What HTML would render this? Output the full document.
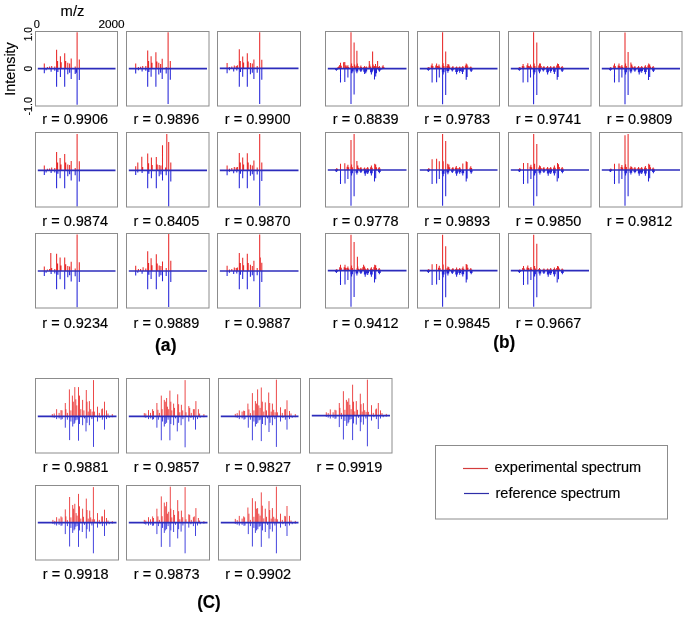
<!DOCTYPE html>
<html><head><meta charset="utf-8"><style>
html,body{margin:0;padding:0;background:#fff;}
svg{display:block;will-change:transform;font-family:"Liberation Sans",sans-serif;}
text{stroke:#000;stroke-width:0.15px;}
</style></head><body>
<svg width="685" height="622" viewBox="0 0 685 622">
<rect width="685" height="622" fill="#fff"/>

<path d="M44.3 68.6V63.6M47.4 68.6V66.9M49.6 68.6V66.5M51.7 68.6V65.9M54.8 68.6V66.5M56.6 68.6V49.8M57.6 68.6V60.9M60.4 68.6V56.2M61.2 68.6V62.2M64.7 68.6V53.3M65.7 68.6V60.9M67.8 68.6V62.8M69.6 68.6V63.4M71.2 68.6V58.5M75.2 68.6V66.5M77.1 68.6V32.2M79.3 68.6V59.4" stroke="#e82828" stroke-width="1.05" fill="none"/>
<path d="M44.3 68.6V73.3M46.1 68.6V70.2M51.1 68.6V71.8M54.8 68.6V70.8M56.6 68.6V86.7M57.9 68.6V72.1M60.4 68.6V77.0M64.7 68.6V86.7M67.8 68.6V74.3M69.6 68.6V72.7M71.2 68.6V78.9M75.2 68.6V73.9M76.4 68.6V72.7M77.1 68.6V104.8M79.3 68.6V80.1" stroke="#2424d8" stroke-width="1.05" fill="none"/>
<line x1="37.8" y1="68.6" x2="115.5" y2="68.6" stroke="#2c2cbc" stroke-width="1.7"/>
<rect x="35.5" y="31.5" width="82.0" height="74.5" fill="none" stroke="#8c8c8c" stroke-width="1"/>
<text x="75.2" y="124.4" font-size="14.8" textLength="65.7" lengthAdjust="spacingAndGlyphs" text-anchor="middle" fill="#000">r = 0.9906</text>
<path d="M135.7 68.6V63.6M138.4 68.6V66.9M140.6 68.6V66.7M142.7 68.6V66.1M145.8 68.6V66.1M147.7 68.6V50.4M148.6 68.6V60.9M151.1 68.6V56.2M152.0 68.6V62.8M155.9 68.6V52.3M156.9 68.6V61.5M158.8 68.6V62.8M160.6 68.6V64.0M162.2 68.6V58.7M166.2 68.6V66.9M168.1 68.6V32.2M170.3 68.6V60.9" stroke="#e82828" stroke-width="1.05" fill="none"/>
<path d="M135.7 68.6V73.5M138.4 68.6V70.2M142.1 68.6V71.4M145.8 68.6V70.8M147.7 68.6V86.7M148.9 68.6V72.1M151.1 68.6V76.8M155.9 68.6V86.7M158.8 68.6V74.5M160.6 68.6V72.7M162.2 68.6V78.9M166.2 68.6V73.5M168.1 68.6V104.0M170.3 68.6V79.7" stroke="#2424d8" stroke-width="1.05" fill="none"/>
<line x1="128.8" y1="68.6" x2="207.0" y2="68.6" stroke="#2c2cbc" stroke-width="1.7"/>
<rect x="126.5" y="31.5" width="82.5" height="74.5" fill="none" stroke="#8c8c8c" stroke-width="1"/>
<text x="166.4" y="124.4" font-size="14.8" textLength="65.7" lengthAdjust="spacingAndGlyphs" text-anchor="middle" fill="#000">r = 0.9896</text>
<path d="M227.1 68.3V63.1M229.4 68.3V66.9M231.8 68.3V66.5M234.3 68.3V65.6M236.2 68.3V65.9M237.4 68.3V65.3M239.3 68.3V49.2M240.3 68.3V60.9M242.7 68.3V56.6M243.6 68.3V62.4M247.3 68.3V53.3M248.2 68.3V61.5M250.4 68.3V63.1M252.3 68.3V63.4M253.9 68.3V59.4M257.2 68.3V65.9M259.7 68.3V32.2M261.8 68.3V59.7" stroke="#e82828" stroke-width="1.05" fill="none"/>
<path d="M227.1 68.3V73.3M229.4 68.3V70.2M233.7 68.3V71.4M236.8 68.3V70.6M239.3 68.3V86.7M240.5 68.3V72.1M242.7 68.3V76.8M247.3 68.3V86.7M250.4 68.3V74.3M252.3 68.3V72.7M253.9 68.3V78.9M257.2 68.3V72.7M259.7 68.3V104.0M261.8 68.3V79.7" stroke="#2424d8" stroke-width="1.05" fill="none"/>
<line x1="219.8" y1="68.3" x2="298.5" y2="68.3" stroke="#2c2cbc" stroke-width="1.7"/>
<rect x="217.5" y="31.5" width="83.0" height="74.5" fill="none" stroke="#8c8c8c" stroke-width="1"/>
<text x="257.7" y="124.4" font-size="14.8" textLength="65.7" lengthAdjust="spacingAndGlyphs" text-anchor="middle" fill="#000">r = 0.9900</text>
<path d="M44.3 170.3V165.6M47.4 170.3V168.7M49.6 170.3V168.4M51.7 170.3V167.5M54.8 170.3V168.1M56.6 170.3V152.0M57.6 170.3V162.6M60.1 170.3V158.0M61.0 170.3V164.4M64.7 170.3V153.9M65.7 170.3V162.6M67.8 170.3V164.4M69.6 170.3V165.0M71.2 170.3V161.1M75.2 170.3V168.1M77.1 170.3V134.1M79.3 170.3V161.3" stroke="#e82828" stroke-width="1.05" fill="none"/>
<path d="M44.3 170.3V174.9M46.1 170.3V172.4M51.1 170.3V173.1M54.8 170.3V172.4M56.6 170.3V188.2M57.9 170.3V173.7M60.1 170.3V178.3M64.7 170.3V188.2M67.8 170.3V176.2M69.6 170.3V174.3M71.2 170.3V180.5M75.2 170.3V175.3M77.1 170.3V206.5M79.3 170.3V181.5" stroke="#2424d8" stroke-width="1.05" fill="none"/>
<line x1="37.8" y1="170.3" x2="115.5" y2="170.3" stroke="#2c2cbc" stroke-width="1.7"/>
<rect x="35.5" y="132.5" width="82.0" height="74.5" fill="none" stroke="#8c8c8c" stroke-width="1"/>
<text x="75.2" y="225.8" font-size="14.8" textLength="65.7" lengthAdjust="spacingAndGlyphs" text-anchor="middle" fill="#000">r = 0.9874</text>
<path d="M135.7 170.3V166.3M137.8 170.3V162.6M141.8 170.3V156.7M142.7 170.3V166.9M147.7 170.3V153.5M148.6 170.3V163.2M151.4 170.3V157.6M152.2 170.3V165.0M156.3 170.3V157.0M157.2 170.3V164.4M159.2 170.3V165.0M160.9 170.3V165.6M162.5 170.3V145.2M165.6 170.3V167.5M166.8 170.3V134.1M168.7 170.3V141.9M170.8 170.3V162.6" stroke="#e82828" stroke-width="1.05" fill="none"/>
<path d="M135.7 170.3V174.9M137.8 170.3V172.4M142.1 170.3V173.1M147.7 170.3V188.2M148.9 170.3V173.7M151.4 170.3V178.3M156.3 170.3V188.2M159.2 170.3V176.2M160.9 170.3V174.6M162.5 170.3V180.5M166.2 170.3V175.3M168.7 170.3V206.5M170.8 170.3V181.5" stroke="#2424d8" stroke-width="1.05" fill="none"/>
<line x1="128.8" y1="170.3" x2="207.0" y2="170.3" stroke="#2c2cbc" stroke-width="1.7"/>
<rect x="126.5" y="132.5" width="82.5" height="74.5" fill="none" stroke="#8c8c8c" stroke-width="1"/>
<text x="166.4" y="225.8" font-size="14.8" textLength="65.7" lengthAdjust="spacingAndGlyphs" text-anchor="middle" fill="#000">r = 0.8405</text>
<path d="M227.1 170.3V165.4M229.4 170.3V168.7M231.8 170.3V168.1M234.3 170.3V167.1M236.2 170.3V167.5M237.4 170.3V166.9M239.3 170.3V153.0M240.3 170.3V162.6M242.7 170.3V157.6M243.6 170.3V164.4M247.3 170.3V153.3M248.2 170.3V162.6M250.4 170.3V164.7M252.3 170.3V165.6M253.9 170.3V160.4M257.2 170.3V167.5M259.7 170.3V134.1M261.8 170.3V162.6" stroke="#e82828" stroke-width="1.05" fill="none"/>
<path d="M227.1 170.3V175.3M229.4 170.3V171.8M233.7 170.3V173.3M236.8 170.3V172.4M239.3 170.3V188.2M240.5 170.3V173.7M242.7 170.3V178.3M247.3 170.3V188.2M250.4 170.3V175.8M252.3 170.3V174.3M253.9 170.3V180.5M257.2 170.3V174.6M259.7 170.3V205.8M261.8 170.3V181.1" stroke="#2424d8" stroke-width="1.05" fill="none"/>
<line x1="219.8" y1="170.3" x2="298.5" y2="170.3" stroke="#2c2cbc" stroke-width="1.7"/>
<rect x="217.5" y="132.5" width="83.0" height="74.5" fill="none" stroke="#8c8c8c" stroke-width="1"/>
<text x="257.7" y="225.8" font-size="14.8" textLength="65.7" lengthAdjust="spacingAndGlyphs" text-anchor="middle" fill="#000">r = 0.9870</text>
<path d="M44.3 271.0V266.4M47.4 271.0V269.4M49.6 271.0V269.1M50.8 271.0V253.0M51.7 271.0V267.9M54.8 271.0V268.9M56.6 271.0V253.7M57.6 271.0V263.6M60.1 271.0V257.4M61.0 271.0V265.4M64.7 271.0V257.4M65.7 271.0V264.2M67.8 271.0V266.0M69.6 271.0V266.6M71.2 271.0V261.7M75.2 271.0V268.5M77.1 271.0V234.5M79.3 271.0V262.3" stroke="#e82828" stroke-width="1.05" fill="none"/>
<path d="M44.3 271.0V275.9M46.1 271.0V272.8M51.1 271.0V274.1M54.8 271.0V273.4M56.6 271.0V289.2M57.9 271.0V274.7M60.1 271.0V279.3M64.7 271.0V289.2M67.8 271.0V277.2M69.6 271.0V275.3M71.2 271.0V281.5M75.2 271.0V276.3M77.1 271.0V307.2M79.3 271.0V282.1" stroke="#2424d8" stroke-width="1.05" fill="none"/>
<line x1="37.8" y1="271.0" x2="115.5" y2="271.0" stroke="#2c2cbc" stroke-width="1.7"/>
<rect x="35.5" y="233.5" width="82.0" height="74.5" fill="none" stroke="#8c8c8c" stroke-width="1"/>
<text x="75.2" y="327.6" font-size="14.8" textLength="65.7" lengthAdjust="spacingAndGlyphs" text-anchor="middle" fill="#000">r = 0.9234</text>
<path d="M135.7 271.0V265.7M138.4 271.0V269.1M140.6 271.0V268.9M143.1 271.0V267.3M145.8 271.0V268.5M147.7 271.0V251.2M148.6 271.0V262.9M151.1 271.0V258.2M152.0 271.0V265.2M156.3 271.0V254.3M157.2 271.0V263.6M159.2 271.0V265.4M160.9 271.0V266.0M162.5 271.0V261.4M166.2 271.0V267.9M168.7 271.0V233.9M170.8 271.0V260.7" stroke="#e82828" stroke-width="1.05" fill="none"/>
<path d="M135.7 271.0V275.6M137.8 271.0V272.8M142.1 271.0V273.8M147.7 271.0V289.2M148.9 271.0V274.7M151.1 271.0V279.0M156.3 271.0V289.2M159.2 271.0V276.8M160.9 271.0V275.3M162.5 271.0V281.2M166.2 271.0V275.9M168.7 271.0V306.9M170.8 271.0V282.1" stroke="#2424d8" stroke-width="1.05" fill="none"/>
<line x1="128.8" y1="271.0" x2="207.0" y2="271.0" stroke="#2c2cbc" stroke-width="1.7"/>
<rect x="126.5" y="233.5" width="82.5" height="74.5" fill="none" stroke="#8c8c8c" stroke-width="1"/>
<text x="166.4" y="327.6" font-size="14.8" textLength="65.7" lengthAdjust="spacingAndGlyphs" text-anchor="middle" fill="#000">r = 0.9889</text>
<path d="M227.1 271.0V265.7M229.4 271.0V269.4M231.8 271.0V268.9M234.3 271.0V267.6M236.2 271.0V268.1M237.4 271.0V267.6M239.3 271.0V253.0M240.3 271.0V262.9M242.7 271.0V257.7M243.6 271.0V265.2M247.3 271.0V253.7M248.2 271.0V262.9M250.4 271.0V264.8M252.3 271.0V266.0M253.9 271.0V260.7M257.2 271.0V268.1M259.7 271.0V234.5M260.3 271.0V257.4M261.8 271.0V262.7" stroke="#e82828" stroke-width="1.05" fill="none"/>
<path d="M227.1 271.0V275.9M229.4 271.0V272.8M233.7 271.0V274.1M236.8 271.0V273.4M239.3 271.0V289.2M240.5 271.0V274.7M242.7 271.0V279.0M247.3 271.0V289.2M250.4 271.0V276.8M252.3 271.0V275.3M253.9 271.0V281.2M257.2 271.0V275.3M259.7 271.0V306.9M261.8 271.0V282.1" stroke="#2424d8" stroke-width="1.05" fill="none"/>
<line x1="219.8" y1="271.0" x2="298.5" y2="271.0" stroke="#2c2cbc" stroke-width="1.7"/>
<rect x="217.5" y="233.5" width="83.0" height="74.5" fill="none" stroke="#8c8c8c" stroke-width="1"/>
<text x="257.7" y="327.6" font-size="14.8" textLength="65.7" lengthAdjust="spacingAndGlyphs" text-anchor="middle" fill="#000">r = 0.9887</text>
<path d="M338.6 68.6V66.5M340.5 68.6V62.8M343.6 68.6V62.2M344.8 68.6V61.9M346.0 68.6V65.3M347.9 68.6V65.3M351.0 68.6V32.2M351.6 68.6V63.4M354.1 68.6V42.4M354.7 68.6V64.6M356.9 68.6V50.8M357.4 68.6V63.4M360.9 68.6V65.6M364.6 68.6V66.1M366.4 68.6V66.5M369.3 68.6V60.9M369.8 68.6V64.6M372.6 68.6V51.6M373.2 68.6V64.6M375.5 68.6V64.0M377.6 68.6V60.9M379.4 68.6V66.1M383.1 68.6V65.3M337.8 68.6V67.3M339.4 68.6V67.5M339.7 68.6V65.1M341.3 68.6V65.7M345.2 68.6V66.6M346.8 68.6V66.9M347.1 68.6V66.6M348.7 68.6V66.9M350.8 68.6V65.5M352.4 68.6V66.0M353.9 68.6V66.2M355.5 68.6V66.6M356.6 68.6V65.5M358.2 68.6V66.0M360.1 68.6V66.8M361.7 68.6V67.1M363.8 68.6V67.1M365.4 68.6V67.4M365.6 68.6V67.3M367.2 68.6V67.5M369.0 68.6V66.2M370.6 68.6V66.6M372.4 68.6V66.2M374.1 68.6V66.6M374.7 68.6V65.9M376.3 68.6V66.3M378.6 68.6V67.1M380.2 68.6V67.4M382.3 68.6V66.6M383.9 68.6V66.9" stroke="#e82828" stroke-width="1.05" fill="none"/>
<path d="M336.4 68.6V70.8M340.5 68.6V82.6M344.8 68.6V82.0M347.9 68.6V77.6M351.0 68.6V104.0M352.0 68.6V73.3M354.1 68.6V94.6M356.9 68.6V73.3M360.9 68.6V72.1M364.6 68.6V73.9M365.8 68.6V73.3M371.4 68.6V74.5M372.0 68.6V72.1M374.5 68.6V79.5M375.7 68.6V76.4M379.4 68.6V71.8M381.3 68.6V69.6M335.6 68.6V69.9M337.2 68.6V69.9M351.2 68.6V71.4M352.8 68.6V71.4M356.1 68.6V71.4M357.7 68.6V71.4M360.1 68.6V70.7M361.7 68.6V70.7M363.8 68.6V71.8M365.4 68.6V71.8M365.0 68.6V71.4M366.6 68.6V71.4M370.6 68.6V72.2M372.2 68.6V72.2M371.2 68.6V70.7M372.8 68.6V70.7M374.9 68.6V73.3M376.5 68.6V73.3M378.6 68.6V70.5M380.2 68.6V70.5M380.5 68.6V69.2M382.1 68.6V69.2" stroke="#2424d8" stroke-width="1.05" fill="none"/>
<line x1="327.8" y1="68.6" x2="406.5" y2="68.6" stroke="#2c2cbc" stroke-width="1.7"/>
<rect x="325.5" y="31.5" width="83.0" height="74.5" fill="none" stroke="#8c8c8c" stroke-width="1"/>
<text x="365.7" y="124.4" font-size="14.8" textLength="65.7" lengthAdjust="spacingAndGlyphs" text-anchor="middle" fill="#000">r = 0.8839</text>
<path d="M428.8 68.6V66.9M432.1 68.6V63.4M436.6 68.6V63.6M439.0 68.6V64.6M442.6 68.6V32.2M443.2 68.6V63.2M445.7 68.6V51.6M447.9 68.6V64.0M448.9 68.6V64.4M452.9 68.6V66.1M456.6 68.6V66.5M459.7 68.6V66.5M462.8 68.6V65.9M466.2 68.6V63.6M467.1 68.6V64.6M470.8 68.6V66.5M427.9 68.6V67.6M429.6 68.6V67.7M431.3 68.6V65.5M432.9 68.6V66.0M435.8 68.6V65.6M437.4 68.6V66.1M438.2 68.6V66.2M439.8 68.6V66.6M442.4 68.6V65.3M444.0 68.6V65.9M447.1 68.6V65.9M448.7 68.6V66.3M448.1 68.6V66.1M449.7 68.6V66.5M452.1 68.6V67.1M453.7 68.6V67.4M455.8 68.6V67.3M457.4 68.6V67.5M458.9 68.6V67.3M460.5 68.6V67.5M462.0 68.6V67.0M463.6 68.6V67.2M465.4 68.6V65.6M467.0 68.6V66.1M466.3 68.6V66.2M467.9 68.6V66.6M470.0 68.6V67.3M471.6 68.6V67.5" stroke="#e82828" stroke-width="1.05" fill="none"/>
<path d="M428.4 68.6V70.8M432.1 68.6V82.6M436.6 68.6V82.2M439.3 68.6V77.6M442.6 68.6V104.2M443.2 68.6V74.5M445.7 68.6V94.9M447.9 68.6V72.7M452.3 68.6V71.4M456.6 68.6V74.3M459.7 68.6V72.7M462.5 68.6V73.9M466.2 68.6V79.7M467.1 68.6V77.0M471.2 68.6V72.1M427.6 68.6V69.9M429.2 68.6V69.9M442.4 68.6V72.2M444.0 68.6V72.2M447.1 68.6V71.0M448.7 68.6V71.0M451.5 68.6V70.3M453.1 68.6V70.3M455.8 68.6V72.0M457.4 68.6V72.0M458.9 68.6V71.0M460.5 68.6V71.0M461.7 68.6V71.8M463.3 68.6V71.8M470.4 68.6V70.7M472.0 68.6V70.7" stroke="#2424d8" stroke-width="1.05" fill="none"/>
<line x1="419.8" y1="68.6" x2="497.5" y2="68.6" stroke="#2c2cbc" stroke-width="1.7"/>
<rect x="417.5" y="31.5" width="82.0" height="74.5" fill="none" stroke="#8c8c8c" stroke-width="1"/>
<text x="457.2" y="124.4" font-size="14.8" textLength="65.7" lengthAdjust="spacingAndGlyphs" text-anchor="middle" fill="#000">r = 0.9783</text>
<path d="M519.8 68.6V66.9M523.1 68.6V64.0M527.8 68.6V63.2M530.5 68.6V64.6M533.6 68.6V32.2M534.2 68.6V63.4M536.8 68.6V42.4M539.5 68.6V63.4M540.4 68.6V63.6M543.9 68.6V65.9M547.6 68.6V66.1M550.7 68.6V66.1M554.0 68.6V65.9M557.5 68.6V63.6M558.5 68.6V64.0M562.2 68.6V66.1M519.0 68.6V67.6M520.5 68.6V67.7M522.3 68.6V65.9M523.9 68.6V66.3M527.0 68.6V65.3M528.6 68.6V65.9M529.7 68.6V66.2M531.3 68.6V66.6M533.4 68.6V65.5M535.0 68.6V66.0M538.8 68.6V65.5M540.3 68.6V66.0M539.6 68.6V65.6M541.2 68.6V66.1M543.1 68.6V67.0M544.7 68.6V67.2M546.8 68.6V67.1M548.4 68.6V67.4M549.9 68.6V67.1M551.5 68.6V67.4M553.2 68.6V67.0M554.8 68.6V67.2M556.7 68.6V65.6M558.3 68.6V66.1M557.7 68.6V65.9M559.3 68.6V66.3M561.4 68.6V67.1M563.0 68.6V67.4" stroke="#e82828" stroke-width="1.05" fill="none"/>
<path d="M519.4 68.6V70.8M523.1 68.6V82.6M527.8 68.6V82.2M530.5 68.6V77.6M533.6 68.6V104.2M534.2 68.6V74.5M536.8 68.6V94.9M539.5 68.6V73.3M543.3 68.6V71.4M547.6 68.6V74.5M550.7 68.6V72.7M554.4 68.6V73.9M557.2 68.6V79.7M558.1 68.6V77.0M562.2 68.6V72.1M518.6 68.6V69.9M520.2 68.6V69.9M533.4 68.6V72.2M535.0 68.6V72.2M538.8 68.6V71.4M540.3 68.6V71.4M542.5 68.6V70.3M544.1 68.6V70.3M546.8 68.6V72.2M548.4 68.6V72.2M549.9 68.6V71.0M551.5 68.6V71.0M553.6 68.6V71.8M555.2 68.6V71.8M561.4 68.6V70.7M563.0 68.6V70.7" stroke="#2424d8" stroke-width="1.05" fill="none"/>
<line x1="510.8" y1="68.6" x2="589.0" y2="68.6" stroke="#2c2cbc" stroke-width="1.7"/>
<rect x="508.5" y="31.5" width="82.5" height="74.5" fill="none" stroke="#8c8c8c" stroke-width="1"/>
<text x="548.5" y="124.4" font-size="14.8" textLength="65.7" lengthAdjust="spacingAndGlyphs" text-anchor="middle" fill="#000">r = 0.9741</text>
<path d="M610.8 68.6V67.1M614.5 68.6V63.6M619.0 68.6V63.4M621.9 68.6V64.9M625.0 68.6V32.5M625.6 68.6V63.4M628.1 68.6V52.0M630.9 68.6V62.4M631.8 68.6V64.6M634.9 68.6V66.1M638.6 68.6V66.1M641.7 68.6V65.9M645.4 68.6V65.3M648.7 68.6V63.6M649.7 68.6V64.4M653.2 68.6V66.1M610.0 68.6V67.7M611.5 68.6V67.9M613.7 68.6V65.6M615.3 68.6V66.1M618.2 68.6V65.5M619.8 68.6V66.0M621.1 68.6V66.4M622.7 68.6V66.7M624.8 68.6V65.5M626.4 68.6V66.0M631.0 68.6V66.2M632.6 68.6V66.6M634.1 68.6V67.1M635.7 68.6V67.4M637.8 68.6V67.1M639.4 68.6V67.4M640.9 68.6V67.0M642.5 68.6V67.2M644.6 68.6V66.6M646.2 68.6V66.9M647.9 68.6V65.6M649.5 68.6V66.1M648.9 68.6V66.1M650.5 68.6V66.5M652.4 68.6V67.1M654.0 68.6V67.4" stroke="#e82828" stroke-width="1.05" fill="none"/>
<path d="M610.4 68.6V70.8M614.5 68.6V82.6M619.0 68.6V82.2M621.9 68.6V77.6M625.0 68.6V104.2M625.6 68.6V74.5M628.1 68.6V94.9M630.9 68.6V73.3M634.9 68.6V71.8M639.2 68.6V74.5M641.7 68.6V72.7M645.4 68.6V74.3M648.5 68.6V80.1M649.7 68.6V77.0M653.4 68.6V72.1M609.6 68.6V69.9M611.2 68.6V69.9M624.8 68.6V72.2M626.4 68.6V72.2M630.1 68.6V71.4M631.7 68.6V71.4M634.1 68.6V70.5M635.7 68.6V70.5M638.4 68.6V72.2M640.0 68.6V72.2M640.9 68.6V71.0M642.5 68.6V71.0M644.6 68.6V72.0M646.2 68.6V72.0M652.6 68.6V70.7M654.2 68.6V70.7" stroke="#2424d8" stroke-width="1.05" fill="none"/>
<line x1="601.8" y1="68.6" x2="680.0" y2="68.6" stroke="#2c2cbc" stroke-width="1.7"/>
<rect x="599.5" y="31.5" width="82.5" height="74.5" fill="none" stroke="#8c8c8c" stroke-width="1"/>
<text x="639.5" y="124.4" font-size="14.8" textLength="65.7" lengthAdjust="spacingAndGlyphs" text-anchor="middle" fill="#000">r = 0.9809</text>
<path d="M336.8 170.0V168.1M340.5 170.0V163.8M344.8 170.0V163.2M347.9 170.0V164.7M351.0 170.0V139.9M351.6 170.0V164.4M354.1 170.0V134.1M356.9 170.0V160.9M357.8 170.0V165.6M360.9 170.0V166.9M364.6 170.0V167.5M367.7 170.0V166.9M371.4 170.0V165.4M374.7 170.0V163.8M375.7 170.0V164.4M379.2 170.0V167.1M335.9 170.0V168.9M337.6 170.0V169.0M347.1 170.0V166.8M348.7 170.0V167.3M350.8 170.0V166.6M352.4 170.0V167.2M357.0 170.0V167.4M358.6 170.0V167.8M360.1 170.0V168.1M361.7 170.0V168.4M363.8 170.0V168.5M365.4 170.0V168.7M366.9 170.0V168.1M368.5 170.0V168.4M370.6 170.0V167.2M372.2 170.0V167.7M374.9 170.0V166.6M376.5 170.0V167.2M378.4 170.0V168.3M380.0 170.0V168.5" stroke="#e82828" stroke-width="1.05" fill="none"/>
<path d="M336.4 170.0V172.1M340.5 170.0V183.9M345.0 170.0V183.6M347.9 170.0V179.0M351.0 170.0V205.8M351.6 170.0V175.5M354.1 170.0V196.3M356.9 170.0V174.6M360.9 170.0V173.1M365.2 170.0V175.8M367.7 170.0V174.1M371.4 170.0V175.5M374.5 170.0V181.5M375.7 170.0V178.3M379.4 170.0V173.3M335.6 170.0V171.2M337.2 170.0V171.2M350.8 170.0V173.3M352.4 170.0V173.3M356.1 170.0V172.7M357.7 170.0V172.7M360.1 170.0V171.8M361.7 170.0V171.8M364.4 170.0V173.5M366.0 170.0V173.5M366.9 170.0V172.4M368.5 170.0V172.4M370.6 170.0V173.3M372.2 170.0V173.3M378.6 170.0V172.0M380.2 170.0V172.0" stroke="#2424d8" stroke-width="1.05" fill="none"/>
<line x1="327.8" y1="170.0" x2="406.5" y2="170.0" stroke="#2c2cbc" stroke-width="1.7"/>
<rect x="325.5" y="132.5" width="83.0" height="74.5" fill="none" stroke="#8c8c8c" stroke-width="1"/>
<text x="365.7" y="225.8" font-size="14.8" textLength="65.7" lengthAdjust="spacingAndGlyphs" text-anchor="middle" fill="#000">r = 0.9778</text>
<path d="M428.8 170.0V168.1M432.1 170.0V159.2M436.6 170.0V158.8M439.3 170.0V161.3M442.6 170.0V134.1M443.2 170.0V161.3M445.7 170.0V140.9M447.7 170.0V163.8M448.9 170.0V164.4M452.9 170.0V166.9M456.3 170.0V165.9M459.7 170.0V166.9M462.8 170.0V163.4M466.2 170.0V161.3M467.1 170.0V161.9M470.8 170.0V166.3M427.9 170.0V168.9M429.6 170.0V169.0M448.1 170.0V166.6M449.7 170.0V167.2M452.1 170.0V168.1M453.7 170.0V168.4M455.5 170.0V167.5M457.1 170.0V167.9M458.9 170.0V168.1M460.5 170.0V168.4M470.0 170.0V167.7M471.6 170.0V168.1" stroke="#e82828" stroke-width="1.05" fill="none"/>
<path d="M428.4 170.0V172.1M432.1 170.0V183.9M436.6 170.0V183.6M439.3 170.0V179.0M442.6 170.0V205.8M443.2 170.0V176.2M445.7 170.0V196.3M447.9 170.0V174.3M452.3 170.0V173.1M456.6 170.0V175.8M459.7 170.0V173.7M462.8 170.0V175.5M466.2 170.0V181.5M467.1 170.0V178.6M471.2 170.0V173.7M427.6 170.0V171.2M429.2 170.0V171.2M442.4 170.0V173.7M444.0 170.0V173.7M447.1 170.0V172.6M448.7 170.0V172.6M451.5 170.0V171.8M453.1 170.0V171.8M455.8 170.0V173.5M457.4 170.0V173.5M458.9 170.0V172.2M460.5 170.0V172.2M462.0 170.0V173.3M463.6 170.0V173.3M470.4 170.0V172.2M472.0 170.0V172.2" stroke="#2424d8" stroke-width="1.05" fill="none"/>
<line x1="419.8" y1="170.0" x2="497.5" y2="170.0" stroke="#2c2cbc" stroke-width="1.7"/>
<rect x="417.5" y="132.5" width="82.0" height="74.5" fill="none" stroke="#8c8c8c" stroke-width="1"/>
<text x="457.2" y="225.8" font-size="14.8" textLength="65.7" lengthAdjust="spacingAndGlyphs" text-anchor="middle" fill="#000">r = 0.9893</text>
<path d="M519.8 170.0V168.1M523.5 170.0V162.9M527.8 170.0V162.9M530.9 170.0V164.7M533.7 170.0V134.1M534.6 170.0V163.8M536.8 170.0V144.0M539.5 170.0V165.6M540.4 170.0V166.3M543.9 170.0V166.9M547.6 170.0V167.1M550.7 170.0V166.9M554.4 170.0V165.6M557.5 170.0V162.9M558.5 170.0V164.2M562.2 170.0V167.1M519.0 170.0V168.9M520.5 170.0V169.0M530.1 170.0V166.8M531.7 170.0V167.3M538.8 170.0V167.4M540.3 170.0V167.8M539.6 170.0V167.7M541.2 170.0V168.1M543.1 170.0V168.1M544.7 170.0V168.4M546.8 170.0V168.3M548.4 170.0V168.5M549.9 170.0V168.1M551.5 170.0V168.4M553.6 170.0V167.4M555.2 170.0V167.8M557.7 170.0V166.5M559.3 170.0V167.1M561.4 170.0V168.3M563.0 170.0V168.5" stroke="#e82828" stroke-width="1.05" fill="none"/>
<path d="M519.4 170.0V172.1M523.5 170.0V183.9M527.8 170.0V183.6M530.9 170.0V179.0M533.7 170.0V205.8M534.6 170.0V175.5M536.8 170.0V196.3M539.9 170.0V174.6M543.9 170.0V173.1M548.2 170.0V175.8M550.7 170.0V174.1M554.4 170.0V175.5M557.2 170.0V181.5M558.5 170.0V178.3M562.4 170.0V173.3M518.6 170.0V171.2M520.2 170.0V171.2M533.8 170.0V173.3M535.4 170.0V173.3M539.1 170.0V172.7M540.7 170.0V172.7M543.1 170.0V171.8M544.7 170.0V171.8M547.4 170.0V173.5M549.0 170.0V173.5M549.9 170.0V172.4M551.5 170.0V172.4M553.6 170.0V173.3M555.2 170.0V173.3M561.6 170.0V172.0M563.2 170.0V172.0" stroke="#2424d8" stroke-width="1.05" fill="none"/>
<line x1="510.8" y1="170.0" x2="589.0" y2="170.0" stroke="#2c2cbc" stroke-width="1.7"/>
<rect x="508.5" y="132.5" width="82.5" height="74.5" fill="none" stroke="#8c8c8c" stroke-width="1"/>
<text x="548.5" y="225.8" font-size="14.8" textLength="65.7" lengthAdjust="spacingAndGlyphs" text-anchor="middle" fill="#000">r = 0.9850</text>
<path d="M610.8 170.0V168.4M614.5 170.0V163.8M619.0 170.0V163.4M621.9 170.0V165.0M625.0 170.0V135.3M625.6 170.0V164.2M628.1 170.0V134.1M630.9 170.0V166.3M631.8 170.0V166.9M634.9 170.0V167.1M638.6 170.0V167.1M641.7 170.0V166.9M645.4 170.0V165.9M648.7 170.0V163.8M649.7 170.0V164.7M653.2 170.0V167.5M610.0 170.0V169.0M611.5 170.0V169.2M621.1 170.0V167.0M622.7 170.0V167.5M624.8 170.0V166.5M626.4 170.0V167.1M630.1 170.0V167.7M631.7 170.0V168.1M631.0 170.0V168.1M632.6 170.0V168.4M634.1 170.0V168.3M635.7 170.0V168.5M637.8 170.0V168.3M639.4 170.0V168.5M640.9 170.0V168.1M642.5 170.0V168.4M644.6 170.0V167.5M646.2 170.0V167.9M648.9 170.0V166.8M650.5 170.0V167.3M652.4 170.0V168.5M654.0 170.0V168.7" stroke="#e82828" stroke-width="1.05" fill="none"/>
<path d="M610.4 170.0V172.1M614.5 170.0V183.9M619.0 170.0V183.6M621.9 170.0V179.0M625.0 170.0V205.8M625.6 170.0V175.5M628.1 170.0V196.3M630.9 170.0V174.6M634.9 170.0V173.3M639.2 170.0V175.8M641.7 170.0V174.1M645.4 170.0V175.8M648.5 170.0V181.5M649.7 170.0V178.3M653.4 170.0V173.3M609.6 170.0V171.2M611.2 170.0V171.2M624.8 170.0V173.3M626.4 170.0V173.3M630.1 170.0V172.7M631.7 170.0V172.7M634.1 170.0V172.0M635.7 170.0V172.0M638.4 170.0V173.5M640.0 170.0V173.5M640.9 170.0V172.4M642.5 170.0V172.4M644.6 170.0V173.5M646.2 170.0V173.5M652.6 170.0V172.0M654.2 170.0V172.0" stroke="#2424d8" stroke-width="1.05" fill="none"/>
<line x1="601.8" y1="170.0" x2="680.0" y2="170.0" stroke="#2c2cbc" stroke-width="1.7"/>
<rect x="599.5" y="132.5" width="82.5" height="74.5" fill="none" stroke="#8c8c8c" stroke-width="1"/>
<text x="639.5" y="225.8" font-size="14.8" textLength="65.7" lengthAdjust="spacingAndGlyphs" text-anchor="middle" fill="#000">r = 0.9812</text>
<path d="M336.8 270.7V269.1M340.5 270.7V264.8M345.0 270.7V264.8M347.9 270.7V266.4M351.0 270.7V234.7M351.6 270.7V265.4M354.1 270.7V241.9M357.4 270.7V256.7M357.8 270.7V266.6M360.9 270.7V267.9M363.6 270.7V264.8M364.6 270.7V266.4M367.7 270.7V268.1M371.4 270.7V267.3M374.7 270.7V264.8M375.7 270.7V265.2M379.2 270.7V268.1M335.9 270.7V269.8M337.6 270.7V269.9M339.7 270.7V267.2M341.3 270.7V267.8M344.2 270.7V267.2M345.8 270.7V267.8M347.1 270.7V268.1M348.7 270.7V268.6M350.8 270.7V267.5M352.4 270.7V268.1M357.0 270.7V268.3M358.6 270.7V268.7M360.1 270.7V269.0M361.7 270.7V269.3M362.8 270.7V267.2M364.4 270.7V267.8M363.8 270.7V268.1M365.4 270.7V268.6M366.9 270.7V269.2M368.5 270.7V269.4M370.6 270.7V268.6M372.2 270.7V269.0M373.9 270.7V267.2M375.5 270.7V267.8M374.9 270.7V267.4M376.5 270.7V267.9M378.4 270.7V269.2M380.0 270.7V269.4" stroke="#e82828" stroke-width="1.05" fill="none"/>
<path d="M336.4 270.7V273.1M340.5 270.7V285.0M345.0 270.7V284.6M347.9 270.7V280.0M351.0 270.7V306.8M351.6 270.7V276.5M354.1 270.7V297.0M356.9 270.7V275.5M360.9 270.7V274.1M365.2 270.7V276.8M367.7 270.7V275.1M371.4 270.7V276.8M374.5 270.7V282.5M375.7 270.7V279.3M379.4 270.7V274.3M335.6 270.7V272.1M337.2 270.7V272.1M350.8 270.7V274.2M352.4 270.7V274.2M356.1 270.7V273.6M357.7 270.7V273.6M360.1 270.7V272.7M361.7 270.7V272.7M364.4 270.7V274.4M366.0 270.7V274.4M366.9 270.7V273.3M368.5 270.7V273.3M370.6 270.7V274.4M372.2 270.7V274.4M378.6 270.7V272.9M380.2 270.7V272.9" stroke="#2424d8" stroke-width="1.05" fill="none"/>
<line x1="327.8" y1="270.7" x2="406.5" y2="270.7" stroke="#2c2cbc" stroke-width="1.7"/>
<rect x="325.5" y="233.5" width="83.0" height="74.5" fill="none" stroke="#8c8c8c" stroke-width="1"/>
<text x="365.7" y="327.6" font-size="14.8" textLength="65.7" lengthAdjust="spacingAndGlyphs" text-anchor="middle" fill="#000">r = 0.9412</text>
<path d="M428.8 270.7V269.1M432.1 270.7V264.2M436.6 270.7V263.9M439.3 270.7V265.7M442.6 270.7V234.7M443.2 270.7V264.4M445.7 270.7V246.2M447.9 270.7V266.6M448.9 270.7V267.3M452.9 270.7V267.9M456.6 270.7V267.6M459.7 270.7V267.9M463.0 270.7V266.6M466.2 270.7V263.9M467.1 270.7V264.8M470.8 270.7V268.1M427.9 270.7V269.8M429.6 270.7V269.9M438.5 270.7V267.7M440.1 270.7V268.2M447.1 270.7V268.3M448.7 270.7V268.7M448.1 270.7V268.6M449.7 270.7V269.0M452.1 270.7V269.0M453.7 270.7V269.3M455.8 270.7V268.9M457.4 270.7V269.2M458.9 270.7V269.0M460.5 270.7V269.3M462.2 270.7V268.3M463.8 270.7V268.7M466.3 270.7V267.2M467.9 270.7V267.8M470.0 270.7V269.2M471.6 270.7V269.4" stroke="#e82828" stroke-width="1.05" fill="none"/>
<path d="M428.4 270.7V273.1M432.1 270.7V285.0M436.6 270.7V284.6M439.3 270.7V280.0M442.6 270.7V306.8M443.2 270.7V277.2M445.7 270.7V297.3M447.9 270.7V275.5M452.3 270.7V274.1M456.6 270.7V276.8M459.7 270.7V274.7M462.8 270.7V276.5M466.2 270.7V282.5M467.1 270.7V279.6M471.2 270.7V274.3M427.6 270.7V272.1M429.2 270.7V272.1M442.4 270.7V274.6M444.0 270.7V274.6M447.1 270.7V273.6M448.7 270.7V273.6M451.5 270.7V272.7M453.1 270.7V272.7M455.8 270.7V274.4M457.4 270.7V274.4M458.9 270.7V273.1M460.5 270.7V273.1M462.0 270.7V274.2M463.6 270.7V274.2M470.4 270.7V272.9M472.0 270.7V272.9" stroke="#2424d8" stroke-width="1.05" fill="none"/>
<line x1="419.8" y1="270.7" x2="497.5" y2="270.7" stroke="#2c2cbc" stroke-width="1.7"/>
<rect x="417.5" y="233.5" width="82.0" height="74.5" fill="none" stroke="#8c8c8c" stroke-width="1"/>
<text x="457.2" y="327.6" font-size="14.8" textLength="65.7" lengthAdjust="spacingAndGlyphs" text-anchor="middle" fill="#000">r = 0.9845</text>
<path d="M519.8 270.7V269.4M523.5 270.7V266.0M527.8 270.7V265.4M530.9 270.7V266.9M533.7 270.7V234.7M534.6 270.7V266.0M536.8 270.7V243.8M539.5 270.7V267.9M543.9 270.7V268.5M547.6 270.7V268.5M550.7 270.7V268.1M554.4 270.7V267.6M557.5 270.7V266.0M558.5 270.7V266.4M562.2 270.7V268.5M519.0 270.7V269.9M520.5 270.7V270.0M522.7 270.7V267.9M524.3 270.7V268.4M527.0 270.7V267.5M528.6 270.7V268.1M530.1 270.7V268.4M531.7 270.7V268.8M533.8 270.7V267.9M535.4 270.7V268.4M538.8 270.7V269.0M540.3 270.7V269.3M543.1 270.7V269.4M544.7 270.7V269.6M546.8 270.7V269.4M548.4 270.7V269.6M549.9 270.7V269.2M551.5 270.7V269.4M553.6 270.7V268.9M555.2 270.7V269.2M556.7 270.7V267.9M558.3 270.7V268.4M557.7 270.7V268.1M559.3 270.7V268.6M561.4 270.7V269.4M563.0 270.7V269.6" stroke="#e82828" stroke-width="1.05" fill="none"/>
<path d="M519.4 270.7V273.1M523.5 270.7V285.0M527.8 270.7V284.6M530.9 270.7V280.0M533.7 270.7V306.8M534.6 270.7V276.5M536.8 270.7V297.3M539.9 270.7V275.5M543.9 270.7V274.1M548.2 270.7V276.8M550.7 270.7V275.1M554.4 270.7V276.5M557.2 270.7V282.5M558.5 270.7V279.3M562.4 270.7V274.3M518.6 270.7V272.1M520.2 270.7V272.1M533.8 270.7V274.2M535.4 270.7V274.2M539.1 270.7V273.6M540.7 270.7V273.6M543.1 270.7V272.7M544.7 270.7V272.7M547.4 270.7V274.4M549.0 270.7V274.4M549.9 270.7V273.3M551.5 270.7V273.3M553.6 270.7V274.2M555.2 270.7V274.2M561.6 270.7V272.9M563.2 270.7V272.9" stroke="#2424d8" stroke-width="1.05" fill="none"/>
<line x1="510.8" y1="270.7" x2="589.0" y2="270.7" stroke="#2c2cbc" stroke-width="1.7"/>
<rect x="508.5" y="233.5" width="82.5" height="74.5" fill="none" stroke="#8c8c8c" stroke-width="1"/>
<text x="548.5" y="327.6" font-size="14.8" textLength="65.7" lengthAdjust="spacingAndGlyphs" text-anchor="middle" fill="#000">r = 0.9667</text>
<path d="M52.3 416.3V414.1M54.2 416.3V413.5M56.6 416.3V409.2M59.1 416.3V412.9M61.0 416.3V410.1M62.0 416.3V410.4M65.3 416.3V403.0M65.9 416.3V409.2M67.4 416.3V412.9M69.4 416.3V389.4M70.9 416.3V410.4M72.4 416.3V395.6M73.3 416.3V401.7M74.8 416.3V387.1M75.8 416.3V399.3M76.8 416.3V405.4M78.5 416.3V387.1M79.5 416.3V395.6M80.8 416.3V409.2M82.6 416.3V399.9M83.9 416.3V410.4M86.3 416.3V390.0M87.0 416.3V401.7M88.2 416.3V411.6M89.4 416.3V401.1M90.7 416.3V409.2M92.2 416.3V411.6M93.5 416.3V380.1M94.4 416.3V411.6M97.5 416.3V406.7M99.3 416.3V412.9M101.8 416.3V409.2M102.4 416.3V408.5M104.5 416.3V401.7M106.5 416.3V410.4M108.0 416.3V413.5M112.3 416.3V414.1" stroke="#e82828" stroke-width="0.85" fill="none"/>
<path d="M52.3 416.3V417.2M54.2 416.3V417.8M56.6 416.3V419.1M59.1 416.3V418.4M61.0 416.3V419.7M62.2 416.3V419.1M65.3 416.3V427.7M67.4 416.3V419.7M69.6 416.3V440.1M70.9 416.3V421.5M72.7 416.3V426.5M74.0 416.3V424.0M74.8 416.3V422.8M75.8 416.3V420.3M77.1 416.3V419.7M78.5 416.3V440.7M79.5 416.3V424.0M82.6 416.3V425.2M84.5 416.3V418.4M86.0 416.3V431.4M87.0 416.3V422.8M89.4 416.3V425.2M91.9 416.3V419.1M93.5 416.3V446.9M97.5 416.3V421.5M100.0 416.3V417.8M102.4 416.3V419.7M104.5 416.3V429.6M106.5 416.3V419.1M109.2 416.3V417.8M112.3 416.3V417.2" stroke="#2424d8" stroke-width="0.85" fill="none"/>
<line x1="37.8" y1="416.3" x2="116.5" y2="416.3" stroke="#2c2cbc" stroke-width="1.7"/>
<rect x="35.5" y="378.5" width="83.0" height="74.5" fill="none" stroke="#8c8c8c" stroke-width="1"/>
<text x="75.7" y="471.5" font-size="14.8" textLength="65.7" lengthAdjust="spacingAndGlyphs" text-anchor="middle" fill="#000">r = 0.9881</text>
<path d="M144.3 416.3V413.1M145.8 416.3V413.5M148.5 416.3V410.1M150.5 416.3V412.9M152.6 416.3V409.2M153.5 416.3V411.0M156.9 416.3V403.0M157.9 416.3V409.8M159.4 416.3V412.9M161.3 416.3V395.6M162.1 416.3V409.2M164.3 416.3V399.9M165.3 416.3V401.7M166.6 416.3V398.0M167.4 416.3V406.7M168.7 416.3V409.2M169.9 416.3V390.6M170.8 416.3V401.7M171.8 416.3V410.4M173.6 416.3V403.6M174.5 416.3V407.9M177.7 416.3V394.3M178.6 416.3V404.2M179.8 416.3V412.3M181.4 416.3V404.8M182.7 416.3V410.4M185.1 416.3V380.1M186.0 416.3V412.3M188.8 416.3V406.1M189.7 416.3V407.9M191.3 416.3V412.9M193.4 416.3V409.2M194.3 416.3V409.2M195.9 416.3V401.1M198.4 416.3V409.2M199.6 416.3V413.5M203.9 416.3V414.1" stroke="#e82828" stroke-width="0.85" fill="none"/>
<path d="M144.3 416.3V417.2M145.8 416.3V417.8M148.5 416.3V419.1M150.7 416.3V418.4M152.6 416.3V419.7M153.5 416.3V419.1M156.9 416.3V427.7M158.4 416.3V419.7M161.3 416.3V440.3M162.5 416.3V421.5M164.3 416.3V426.5M165.3 416.3V424.0M166.6 416.3V422.8M168.1 416.3V419.7M169.9 416.3V440.3M170.8 416.3V424.0M173.6 416.3V425.2M175.5 416.3V418.4M177.3 416.3V431.4M178.6 416.3V422.8M181.1 416.3V425.2M182.9 416.3V419.1M185.1 416.3V447.3M188.8 416.3V421.5M190.9 416.3V417.8M193.4 416.3V419.7M195.5 416.3V429.6M197.5 416.3V419.1M200.2 416.3V417.8M203.9 416.3V417.2" stroke="#2424d8" stroke-width="0.85" fill="none"/>
<line x1="128.8" y1="416.3" x2="207.5" y2="416.3" stroke="#2c2cbc" stroke-width="1.7"/>
<rect x="126.5" y="378.5" width="83.0" height="74.5" fill="none" stroke="#8c8c8c" stroke-width="1"/>
<text x="166.7" y="471.5" font-size="14.8" textLength="65.7" lengthAdjust="spacingAndGlyphs" text-anchor="middle" fill="#000">r = 0.9857</text>
<path d="M235.3 416.3V413.9M237.2 416.3V413.1M239.3 416.3V410.4M242.1 416.3V411.6M243.7 416.3V410.6M244.6 416.3V411.0M247.9 416.3V403.6M248.9 416.3V409.4M250.4 416.3V413.1M252.4 416.3V393.1M253.9 416.3V410.4M255.4 416.3V401.1M256.6 416.3V403.6M257.6 416.3V389.4M258.8 416.3V405.4M260.1 416.3V407.9M261.3 416.3V387.5M262.3 416.3V401.7M263.8 416.3V411.6M265.3 416.3V402.4M266.5 416.3V410.4M268.7 416.3V392.5M269.7 416.3V403.0M271.2 416.3V411.6M272.4 416.3V403.6M273.7 416.3V409.8M275.1 416.3V412.3M276.4 416.3V379.7M277.4 416.3V412.3M280.5 416.3V407.3M282.3 416.3V412.9M284.8 416.3V409.4M285.4 416.3V409.2M287.0 416.3V400.3M289.5 416.3V411.0M291.0 416.3V413.5M295.3 416.3V414.1" stroke="#e82828" stroke-width="0.85" fill="none"/>
<path d="M235.3 416.3V417.2M237.2 416.3V417.8M239.3 416.3V419.1M242.1 416.3V418.4M244.0 416.3V419.7M245.0 416.3V419.1M248.3 416.3V427.7M250.4 416.3V419.7M252.4 416.3V440.3M253.9 416.3V421.5M255.4 416.3V426.5M256.6 416.3V424.0M257.8 416.3V422.8M259.1 416.3V420.3M260.1 416.3V419.7M261.3 416.3V441.1M262.5 416.3V424.0M265.3 416.3V425.2M267.5 416.3V418.4M269.0 416.3V432.0M270.0 416.3V422.8M272.4 416.3V425.2M274.9 416.3V419.1M276.4 416.3V446.9M280.5 416.3V421.5M282.9 416.3V417.8M285.4 416.3V419.7M287.0 416.3V429.6M289.5 416.3V419.1M292.2 416.3V417.8M295.3 416.3V417.2" stroke="#2424d8" stroke-width="0.85" fill="none"/>
<line x1="220.8" y1="416.3" x2="298.5" y2="416.3" stroke="#2c2cbc" stroke-width="1.7"/>
<rect x="218.5" y="378.5" width="82.0" height="74.5" fill="none" stroke="#8c8c8c" stroke-width="1"/>
<text x="258.2" y="471.5" font-size="14.8" textLength="65.7" lengthAdjust="spacingAndGlyphs" text-anchor="middle" fill="#000">r = 0.9827</text>
<path d="M326.3 415.6V412.3M328.2 415.6V413.1M330.3 415.6V409.4M333.1 415.6V412.3M335.0 415.6V409.8M336.0 415.6V410.4M339.3 415.6V403.0M339.9 415.6V407.9M341.4 415.6V412.9M343.4 415.6V391.2M344.9 415.6V409.8M346.4 415.6V399.9M347.6 415.6V401.7M348.8 415.6V398.3M349.8 415.6V404.8M351.1 415.6V409.2M352.6 415.6V384.7M353.5 415.6V401.7M354.8 415.6V411.4M356.3 415.6V401.1M357.5 415.6V409.8M360.3 415.6V393.7M361.0 415.6V404.2M362.2 415.6V411.6M363.4 415.6V403.2M364.7 415.6V410.2M366.1 415.6V411.9M367.4 415.6V379.7M368.4 415.6V411.9M371.5 415.6V405.2M373.3 415.6V412.9M375.8 415.6V409.4M376.4 415.6V408.6M378.3 415.6V403.0M380.5 415.6V410.4M382.0 415.6V413.1M386.3 415.6V413.9" stroke="#e82828" stroke-width="0.85" fill="none"/>
<path d="M326.3 415.6V416.8M328.2 415.6V417.6M330.3 415.6V418.5M333.1 415.6V417.8M335.0 415.6V418.8M336.0 415.6V418.5M339.3 415.6V427.1M341.4 415.6V419.1M343.4 415.6V439.5M344.9 415.6V420.9M346.7 415.6V425.9M348.0 415.6V423.4M348.8 415.6V422.2M349.8 415.6V419.7M351.1 415.6V419.1M352.6 415.6V440.1M353.5 415.6V423.4M356.3 415.6V424.6M358.5 415.6V417.8M360.3 415.6V431.2M361.0 415.6V422.2M363.4 415.6V424.6M365.9 415.6V418.5M367.4 415.6V446.3M371.5 415.6V420.6M373.9 415.6V417.2M376.4 415.6V419.1M378.3 415.6V429.0M380.5 415.6V418.5M383.2 415.6V417.2M386.3 415.6V416.6" stroke="#2424d8" stroke-width="0.85" fill="none"/>
<line x1="311.8" y1="415.6" x2="390.0" y2="415.6" stroke="#2c2cbc" stroke-width="1.7"/>
<rect x="309.5" y="378.5" width="82.5" height="74.5" fill="none" stroke="#8c8c8c" stroke-width="1"/>
<text x="349.4" y="471.5" font-size="14.8" textLength="65.7" lengthAdjust="spacingAndGlyphs" text-anchor="middle" fill="#000">r = 0.9919</text>
<path d="M52.9 522.6V519.9M54.8 522.6V520.9M56.6 522.6V517.2M59.1 522.6V518.6M61.0 522.6V516.4M62.0 522.6V517.4M65.3 522.6V509.4M65.9 522.6V516.4M67.4 522.6V520.1M69.6 522.6V497.0M70.9 522.6V517.4M72.7 522.6V505.0M73.6 522.6V508.7M74.8 522.6V503.8M76.1 522.6V513.1M77.1 522.6V515.6M78.5 522.6V493.9M79.5 522.6V506.3M80.8 522.6V518.6M82.6 522.6V508.7M83.5 522.6V516.8M86.3 522.6V498.6M87.0 522.6V510.0M88.2 522.6V518.6M89.7 522.6V510.6M90.7 522.6V517.4M92.2 522.6V519.3M93.4 522.6V487.1M94.4 522.6V519.3M97.5 522.6V513.1M99.3 522.6V519.9M101.8 522.6V516.4M102.4 522.6V516.4M104.5 522.6V509.7M106.5 522.6V518.0M108.0 522.6V520.5M112.3 522.6V521.1" stroke="#e82828" stroke-width="0.85" fill="none"/>
<path d="M52.9 522.6V523.8M54.8 522.6V524.6M56.6 522.6V525.5M59.1 522.6V524.8M61.0 522.6V525.8M62.0 522.6V525.5M65.3 522.6V534.1M67.4 522.6V526.1M69.6 522.6V546.5M70.9 522.6V527.9M72.7 522.6V532.9M74.0 522.6V530.4M74.8 522.6V529.2M75.8 522.6V526.7M77.1 522.6V526.1M78.5 522.6V546.9M79.5 522.6V530.4M82.3 522.6V532.0M84.5 522.6V524.8M86.3 522.6V538.4M87.0 522.6V529.2M89.4 522.6V531.6M91.9 522.6V525.5M93.4 522.6V553.3M97.5 522.6V527.6M100.0 522.6V524.2M102.4 522.6V526.1M104.5 522.6V536.0M106.5 522.6V525.5M109.2 522.6V524.2M112.3 522.6V523.6" stroke="#2424d8" stroke-width="0.85" fill="none"/>
<line x1="37.8" y1="522.6" x2="116.5" y2="522.6" stroke="#2c2cbc" stroke-width="1.7"/>
<rect x="35.5" y="485.5" width="83.0" height="74.5" fill="none" stroke="#8c8c8c" stroke-width="1"/>
<text x="75.7" y="579.2" font-size="14.8" textLength="65.7" lengthAdjust="spacingAndGlyphs" text-anchor="middle" fill="#000">r = 0.9918</text>
<path d="M144.3 522.6V519.9M145.8 522.6V520.5M148.5 522.6V517.2M150.5 522.6V519.3M152.6 522.6V516.4M153.5 522.6V518.0M156.9 522.6V508.7M157.9 522.6V516.4M159.4 522.6V519.9M161.3 522.6V496.4M162.1 522.6V516.2M164.3 522.6V502.6M165.3 522.6V506.3M166.6 522.6V501.9M167.4 522.6V513.7M168.7 522.6V511.8M170.3 522.6V486.7M170.8 522.6V508.7M171.8 522.6V517.4M173.6 522.6V510.0M174.5 522.6V514.9M177.7 522.6V500.1M178.6 522.6V511.2M179.8 522.6V519.3M181.4 522.6V510.6M182.7 522.6V517.2M185.1 522.6V487.1M186.0 522.6V519.3M188.8 522.6V514.3M189.7 522.6V514.9M191.3 522.6V519.9M193.4 522.6V517.2M194.3 522.6V516.4M195.9 522.6V508.1M198.4 522.6V518.0M199.6 522.6V520.5M203.9 522.6V521.1" stroke="#e82828" stroke-width="0.85" fill="none"/>
<path d="M144.3 522.6V523.8M145.8 522.6V524.6M148.5 522.6V525.5M150.7 522.6V524.8M152.6 522.6V525.8M153.5 522.6V525.5M156.9 522.6V534.1M158.4 522.6V526.1M161.3 522.6V546.9M162.5 522.6V527.9M164.3 522.6V532.9M165.3 522.6V530.4M166.6 522.6V529.2M168.1 522.6V526.1M169.9 522.6V546.9M170.8 522.6V530.4M173.6 522.6V532.0M175.5 522.6V524.8M177.7 522.6V538.4M178.6 522.6V529.2M181.1 522.6V531.6M182.9 522.6V525.5M185.1 522.6V553.3M188.8 522.6V527.6M190.9 522.6V524.2M193.4 522.6V526.1M195.5 522.6V536.0M197.5 522.6V525.5M200.2 522.6V524.2M203.9 522.6V523.6" stroke="#2424d8" stroke-width="0.85" fill="none"/>
<line x1="128.8" y1="522.6" x2="207.5" y2="522.6" stroke="#2c2cbc" stroke-width="1.7"/>
<rect x="126.5" y="485.5" width="83.0" height="74.5" fill="none" stroke="#8c8c8c" stroke-width="1"/>
<text x="166.7" y="579.2" font-size="14.8" textLength="65.7" lengthAdjust="spacingAndGlyphs" text-anchor="middle" fill="#000">r = 0.9873</text>
<path d="M235.3 522.6V518.9M237.2 522.6V520.1M239.3 522.6V515.9M242.1 522.6V518.6M243.7 522.6V516.4M244.6 522.6V517.4M247.9 522.6V507.5M248.9 522.6V513.7M250.4 522.6V519.9M252.4 522.6V498.2M253.9 522.6V516.8M255.4 522.6V501.3M256.6 522.6V508.7M257.6 522.6V508.1M258.8 522.6V513.7M260.1 522.6V515.6M261.3 522.6V492.4M262.3 522.6V505.7M263.8 522.6V518.4M265.3 522.6V508.7M266.5 522.6V516.8M269.0 522.6V501.1M269.7 522.6V510.0M271.2 522.6V518.6M272.4 522.6V508.1M273.7 522.6V516.8M275.1 522.6V518.6M276.4 522.6V486.7M277.4 522.6V519.3M280.5 522.6V513.7M282.3 522.6V519.9M284.8 522.6V515.9M285.4 522.6V516.4M287.0 522.6V506.0M289.5 522.6V515.9M291.0 522.6V520.5M295.3 522.6V520.9" stroke="#e82828" stroke-width="0.85" fill="none"/>
<path d="M235.3 522.6V523.8M237.2 522.6V524.6M239.3 522.6V525.5M242.1 522.6V524.8M244.0 522.6V525.8M245.0 522.6V525.5M248.3 522.6V534.1M250.4 522.6V526.1M252.4 522.6V546.5M253.9 522.6V527.9M255.4 522.6V532.9M256.6 522.6V530.4M257.8 522.6V529.2M259.1 522.6V526.7M260.1 522.6V526.1M261.3 522.6V546.9M262.5 522.6V530.4M265.3 522.6V532.0M267.5 522.6V524.8M269.0 522.6V538.4M270.0 522.6V529.2M272.4 522.6V531.6M274.9 522.6V525.5M276.4 522.6V553.3M280.5 522.6V527.6M282.9 522.6V524.2M285.4 522.6V526.1M287.0 522.6V536.0M289.5 522.6V525.5M292.2 522.6V524.2M295.3 522.6V523.6" stroke="#2424d8" stroke-width="0.85" fill="none"/>
<line x1="220.8" y1="522.6" x2="298.5" y2="522.6" stroke="#2c2cbc" stroke-width="1.7"/>
<rect x="218.5" y="485.5" width="82.0" height="74.5" fill="none" stroke="#8c8c8c" stroke-width="1"/>
<text x="258.2" y="579.2" font-size="14.8" textLength="65.7" lengthAdjust="spacingAndGlyphs" text-anchor="middle" fill="#000">r = 0.9902</text>
<text x="60.6" y="16.0" font-size="14.4" textLength="23.8" lengthAdjust="spacingAndGlyphs" fill="#000">m/z</text>
<text x="33.8" y="28" font-size="11" fill="#000">0</text>
<text x="98.4" y="27.9" font-size="11.8" fill="#000">2000</text>
<text transform="translate(14.7,95.8) rotate(-90)" font-size="14.5" textLength="53.6" lengthAdjust="spacingAndGlyphs" fill="#000">Intensity</text>
<text transform="translate(31.6,41.3) rotate(-90)" font-size="10.2" fill="#000">1.0</text>
<text transform="translate(31.6,71.4) rotate(-90)" font-size="10.2" fill="#000">0</text>
<text transform="translate(31.6,115.6) rotate(-90)" font-size="10.2" textLength="18.5" lengthAdjust="spacingAndGlyphs" fill="#000">-1.0</text>
<text x="155" y="351" font-size="18" font-weight="bold" textLength="21.5" lengthAdjust="spacingAndGlyphs" fill="#000">(a)</text>
<text x="493.3" y="348" font-size="18" font-weight="bold" textLength="22" lengthAdjust="spacingAndGlyphs" fill="#000">(b)</text>
<text x="197.2" y="607.8" font-size="18" font-weight="bold" textLength="23.5" lengthAdjust="spacingAndGlyphs" fill="#000">(C)</text>
<rect x="435.5" y="445.5" width="232" height="73.5" fill="none" stroke="#8c8c8c" stroke-width="1"/>
<line x1="463" y1="468.5" x2="488" y2="468.5" stroke="#d43c3c" stroke-width="1.2"/>
<line x1="464" y1="493.5" x2="489" y2="493.5" stroke="#2e2ea8" stroke-width="1.2"/>
<text x="494.5" y="472.3" font-size="14.5" fill="#000">experimental spectrum</text>
<text x="495.5" y="498.3" font-size="14.5" fill="#000">reference spectrum</text>
</svg></body></html>
